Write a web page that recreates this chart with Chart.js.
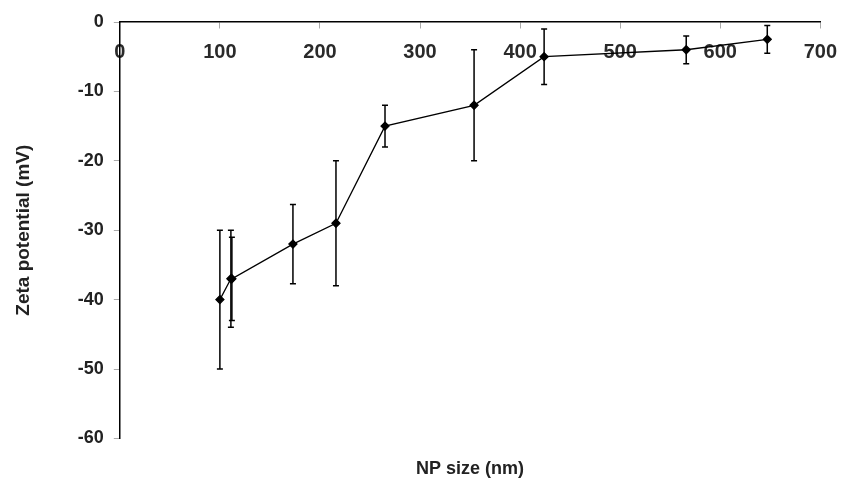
<!DOCTYPE html>
<html>
<head>
<meta charset="utf-8">
<script src="https://cdn.jsdelivr.net/npm/chart.js@4"></script>
<style>
  html, body { margin: 0; padding: 0; background: #fff; }
  #wrap { width: 849px; height: 494px; }
</style>
</head>
<body>
<div id="wrap"><canvas id="zetaChart"></canvas></div>
<script>
// NP size (nm) vs zeta potential (mV), mean +/- error
var sizes = [100, 111, 112, 173, 216, 265, 354, 424, 566, 647];
var zeta = [-40, -37, -37, -32, -29, -15, -12, -5, -4, -2.5];
var zetaErr = [10, 7, 6, 5.7, 9, 3, 8, 4, 2, 2];

var xTicks = [0, 100, 200, 300, 400, 500, 600, 700];
var yTicks = [0, -10, -20, -30, -40, -50, -60];

var points = sizes.map(function (s, i) {
    return { x: s, y: zeta[i] };
});

// vertical error bars with small caps
var errorBars = {
    id: 'errorBars',
    afterDatasetsDraw: function (chart) {
        var ctx = chart.ctx;
        var xs = chart.scales.x, ys = chart.scales.y;
        ctx.save();
        ctx.strokeStyle = '#000';
        ctx.lineWidth = 1.5;
        for (var i = 0; i < sizes.length; i++) {
            var px = xs.getPixelForValue(sizes[i]);
            var top = ys.getPixelForValue(zeta[i] + zetaErr[i]);
            var bot = ys.getPixelForValue(zeta[i] - zetaErr[i]);
            ctx.beginPath();
            ctx.moveTo(px, top);
            ctx.lineTo(px, bot);
            ctx.moveTo(px - 3, top);
            ctx.lineTo(px + 3, top);
            ctx.moveTo(px - 3, bot);
            ctx.lineTo(px + 3, bot);
            ctx.stroke();
        }
        ctx.restore();
    }
};

var ctx = document.getElementById('zetaChart').getContext('2d');
new Chart(ctx, {
    type: 'scatter',
    data: {
        datasets: [{
            data: points,
            showLine: true,
            borderColor: '#000',
            backgroundColor: '#000',
            borderWidth: 1.3,
            pointStyle: 'rectRot',
            pointRadius: 4,
            pointHoverRadius: 4
        }]
    },
    plugins: [errorBars],
    options: {
        responsive: true,
        maintainAspectRatio: false,
        animation: false,
        layout: { autoPadding: false, padding: { left: 10, right: 19, top: 22, bottom: 6 } },
        plugins: {
            legend: { display: false },
            tooltip: { enabled: false },
            title: {
                display: true,
                position: 'bottom',
                fullSize: false,
                text: 'NP size (nm)',
                color: '#222',
                font: { family: 'Liberation Sans', size: 18, weight: 'bold' },
                padding: { top: 20, bottom: 8 }
            }
        },
        scales: {
            x: {
                type: 'linear',
                position: { y: 0 },
                min: 0,
                max: 700,
                afterBuildTicks: function (scale) {
                    scale.ticks = xTicks.map(function (v) { return { value: v }; });
                },
                grid: { drawOnChartArea: false, drawTicks: true, tickLength: 6, color: '#aaa' },
                border: { color: '#000', width: 1.5 },
                ticks: {
                    color: '#2a2a2a',
                    padding: 12,
                    maxRotation: 0,
                    font: { family: 'Liberation Sans', size: 20, weight: 'bold' }
                }
            },
            y: {
                type: 'linear',
                position: 'left',
                min: -60,
                max: 0,
                afterBuildTicks: function (scale) {
                    scale.ticks = yTicks.map(function (v) { return { value: v }; });
                },
                grid: { drawOnChartArea: false, drawTicks: true, tickLength: 6, color: '#aaa' },
                border: { color: '#000', width: 1.5 },
                ticks: {
                    color: '#222',
                    padding: 10,
                    font: { family: 'Liberation Sans', size: 18, weight: 'bold' }
                },
                title: {
                    display: true,
                    text: 'Zeta potential (mV)',
                    color: '#222',
                    font: { family: 'Liberation Sans', size: 19, weight: 'bold' },
                    padding: { top: 2, bottom: 33 }
                }
            }
        }
    }
});
</script>
</body>
</html>
